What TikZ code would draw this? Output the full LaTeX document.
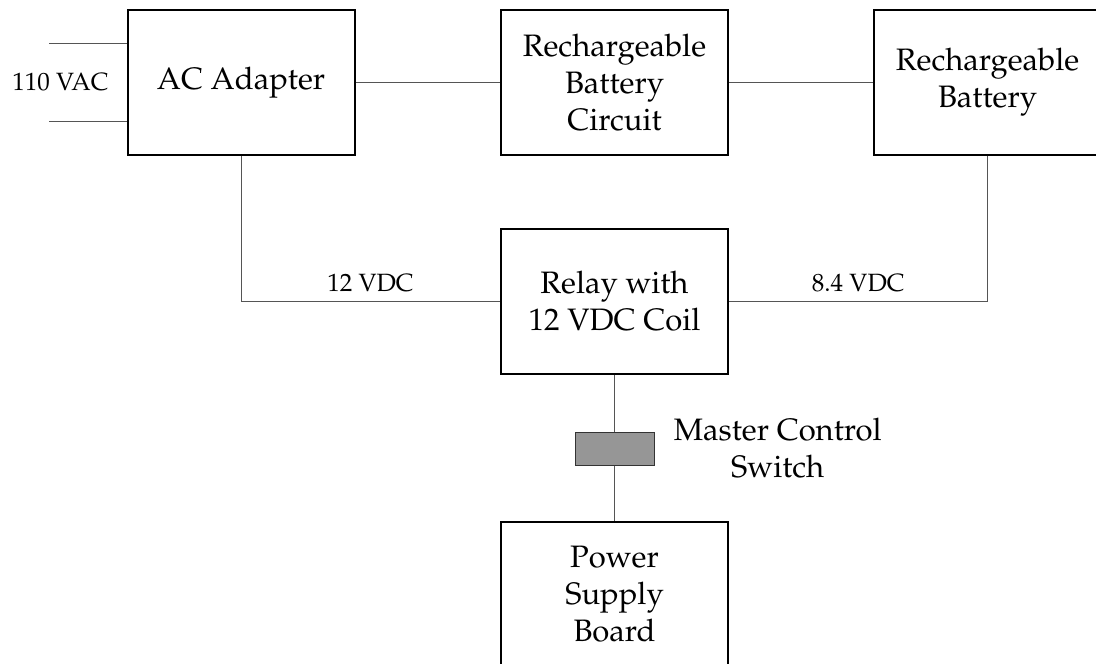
\documentclass[tikz,border=0pt]{standalone}
\usepackage[T1]{fontenc}
\usepackage{mathpazo}
\usepackage{tikz}
\definecolor{wirecol}{RGB}{85,85,85}
\definecolor{switchcol}{RGB}{150,150,150}
\usetikzlibrary{positioning}

\begin{document}
\begin{tikzpicture}[x=0.5pt, y=-0.5pt,
    box/.style={draw, line width=1pt, minimum width=113.5pt, minimum height=72.5pt,
        inner sep=0pt, align=center, font=\fontsize{15.5}{18.5}\selectfont},
    boxtext/.style={inner sep=0pt, align=center, font=\fontsize{15.5}{18.5}\selectfont},
    lbl/.style={inner sep=0pt, font=\fontsize{12.5}{15}\selectfont},
    wire/.style={draw=wirecol, line width=0.5pt},
    switchbox/.style={draw=black!80, line width=0.5pt, fill=switchcol,
        minimum width=39.5pt, minimum height=16.5pt, inner sep=0pt}]
    \useasboundingbox (0,0) rectangle (1096,663);
    \clip (0,0) rectangle (1096,663);
    % Khối trên
    \node[box] (ac) at (241,82.5) {AC Adapter};
    \node[box] (circ) at (614.5,82.5) {Rechargeable\\Battery\\Circuit};
    \node[box] (batt) at (987.5,82.5) {Rechargeable\\Battery};
    % Rơ-le, công tắc và bo nguồn
    \node[box] (relay) at (614.5,301.5) {Relay with\\12 VDC Coil};
    \node[switchbox] (sw) at (614.5,448.5) {};
    \node[boxtext, right=9.5pt of sw] (mcs) {Master Control\\Switch};
    \node[box] (psb) at (614.5,594.5) {Power\\Supply\\Board};
    % Nguồn vào 110 VAC
    \coordinate (in1) at (49,43.5);
    \coordinate (in2) at (49,122);
    \draw[wire] (in1) -- (in1 -| ac.west);
    \draw[wire] (in2) -- (in2 -| ac.west);
    \node[lbl] (vac) at (60.5,82) {110 VAC};
    % Dây nối
    \draw[wire] (ac) -- (circ);
    \draw[wire] (circ) -- (batt);
    \draw[wire] (ac.south) |- (relay.west) node[lbl, pos=0.75, anchor=base, yshift=5pt] {12 VDC};
    \draw[wire] (batt.south) |- (relay.east) node[lbl, pos=0.75, anchor=base, yshift=5pt] {8.4 VDC};
    \draw[wire] (relay) -- (sw);
    \draw[wire] (sw) -- (psb);
\end{tikzpicture}
\end{document}
